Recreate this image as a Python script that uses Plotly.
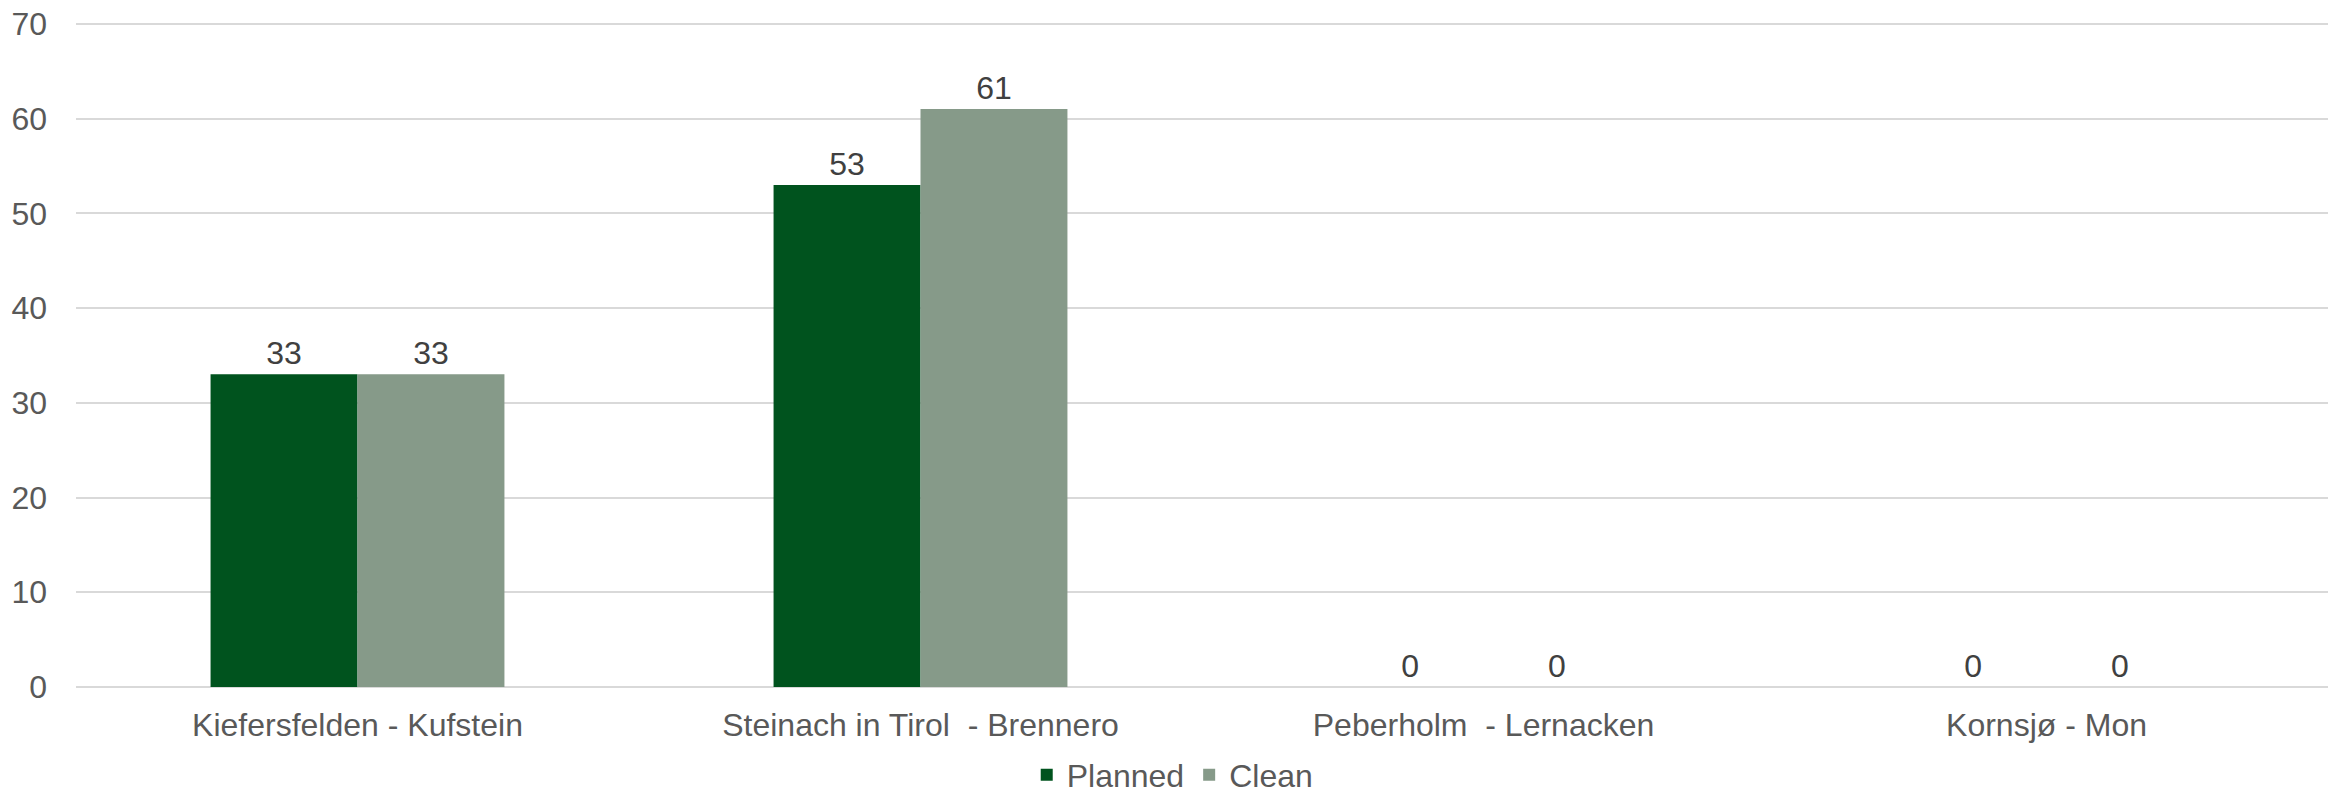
import plotly.graph_objects as go

categories = ["Kiefersfelden - Kufstein", "Steinach in Tirol  - Brennero", "Peberholm  - Lernacken", "Kornsjø - Mon"]
planned = [33, 53, 0, 0]
clean = [33, 61, 0, 0]
y_ticks = [0, 10, 20, 30, 40, 50, 60, 70]

FONT = "Liberation Sans, Arial, sans-serif"
FS = 32

W, H = 2330, 797
M_L, M_R, M_T, M_B = 76, 2, 21, 110
LEGEND_MID = 775    # pixel row of the legend centre

fig = go.Figure()
fig.add_trace(go.Bar(
    name="Planned", x=categories, y=planned, marker=dict(color="#00531E", line=dict(width=0)),
    text=planned, textposition="outside", cliponaxis=False,
    textfont=dict(family=FONT, size=FS, color="#404040"),
))
fig.add_trace(go.Bar(
    name="Clean", x=categories, y=clean, marker=dict(color="#869A89", line=dict(width=0)),
    text=clean, textposition="outside", cliponaxis=False,
    textfont=dict(family=FONT, size=FS, color="#404040"),
))

fig.update_layout(
    width=W, height=H,
    margin=dict(l=M_L, r=M_R, t=M_T, b=M_B, autoexpand=False),
    paper_bgcolor="white", plot_bgcolor="white",
    barmode="group", bargap=0.478, bargroupgap=0,
    font=dict(family=FONT, size=FS, color="#595959"),
    showlegend=True,
    legend=dict(orientation="h", x=0.487, xanchor="center",
                yref="container", y=(H - LEGEND_MID) / H, yanchor="middle",
                font=dict(family=FONT, size=FS, color="#595959"), itemwidth=30,
                traceorder="normal"),
)
fig.update_xaxes(
    showgrid=False, showline=False, zeroline=False, automargin=False,
    tickfont=dict(family=FONT, size=FS, color="#595959"),
    ticklabelstandoff=16,
)
fig.update_yaxes(
    range=[0, 70.3], tickvals=y_ticks, automargin=False,
    showgrid=True, gridcolor="#D9D9D9", gridwidth=2,
    zeroline=True, zerolinecolor="#D9D9D9", zerolinewidth=2,
    showline=False,
    tickfont=dict(family=FONT, size=FS, color="#595959"),
    ticklabelstandoff=28,
)

fig.write_html(
    "out.html",
    config={"displayModeBar": False},
    post_script="document.body.style.margin='0';document.body.style.overflow='hidden';",
)
